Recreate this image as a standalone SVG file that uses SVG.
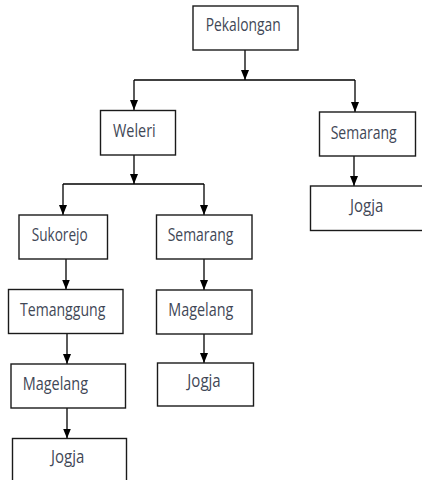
<svg xmlns="http://www.w3.org/2000/svg" width="422" height="480" viewBox="0 0 422 480">
<style>
.box{fill:#fff;stroke:#1a1a1a;stroke-width:1.4}
.lbl{font-family:"Open Sans","Noto Sans",sans-serif;font-size:17.5px;fill:#3f4756}
.ln{fill:none;stroke:#000;stroke-width:1.3}
</style>
<defs>
<marker id="ah" markerUnits="userSpaceOnUse" markerWidth="10" markerHeight="8" refX="10" refY="4" orient="auto">
<path d="M0,0 L10,4 L0,8 z" fill="#000"/>
</marker>
</defs>
<rect width="422" height="480" fill="#fff"/>
<g id="connectors">
<path class="ln" d="M245,50 V80" marker-end="url(#ah)"/>
<path class="ln" d="M134,80 H355"/>
<path class="ln" d="M134,80 V110" marker-end="url(#ah)"/>
<path class="ln" d="M355,80 V112" marker-end="url(#ah)"/>
<path class="ln" d="M134,155 V184" marker-end="url(#ah)"/>
<path class="ln" d="M63,184 H204"/>
<path class="ln" d="M63,184 V215" marker-end="url(#ah)"/>
<path class="ln" d="M204,184 V215" marker-end="url(#ah)"/>
<path class="ln" d="M354,156 V186" marker-end="url(#ah)"/>
<path class="ln" d="M66,259 V289.5" marker-end="url(#ah)"/>
<path class="ln" d="M67,334 V364" marker-end="url(#ah)"/>
<path class="ln" d="M67,408 V438.5" marker-end="url(#ah)"/>
<path class="ln" d="M204,259 V290" marker-end="url(#ah)"/>
<path class="ln" d="M204,334 V363" marker-end="url(#ah)"/>
</g>
<g id="pekalongan"><rect class="box" x="193" y="6" width="105" height="44"/><text class="lbl" x="205.7" y="31" textLength="75" lengthAdjust="spacingAndGlyphs">Pekalongan</text></g>
<g id="weleri"><rect class="box" x="100.5" y="110.5" width="75" height="44.5"/><text class="lbl" x="113" y="137" textLength="42.7" lengthAdjust="spacingAndGlyphs">Weleri</text></g>
<g id="semarang-right"><rect class="box" x="319.5" y="112" width="96" height="44"/><text class="lbl" x="330.7" y="139" textLength="66" lengthAdjust="spacingAndGlyphs">Semarang</text></g>
<g id="jogja-right"><rect class="box" x="310.5" y="186" width="120" height="44.5"/><text class="lbl" x="350" y="212" textLength="33.3" lengthAdjust="spacingAndGlyphs">Jogja</text></g>
<g id="sukorejo"><rect class="box" x="19" y="215" width="88.5" height="44"/><text class="lbl" x="31.7" y="240.5" textLength="56" lengthAdjust="spacingAndGlyphs">Sukorejo</text></g>
<g id="semarang-mid"><rect class="box" x="156.5" y="215" width="95.5" height="44"/><text class="lbl" x="167.7" y="240.5" textLength="65.6" lengthAdjust="spacingAndGlyphs">Semarang</text></g>
<g id="temanggung"><rect class="box" x="8.5" y="289.5" width="114.5" height="44"/><text class="lbl" x="20" y="316" textLength="85.3" lengthAdjust="spacingAndGlyphs">Temanggung</text></g>
<g id="magelang-left"><rect class="box" x="11" y="364" width="114.5" height="44"/><text class="lbl" x="22.7" y="390" textLength="65.3" lengthAdjust="spacingAndGlyphs">Magelang</text></g>
<g id="jogja-left"><rect class="box" x="12.5" y="438.5" width="114" height="60"/><text class="lbl" x="51" y="463.3" textLength="33.3" lengthAdjust="spacingAndGlyphs">Jogja</text></g>
<g id="magelang-mid"><rect class="box" x="156.5" y="290" width="95.5" height="44"/><text class="lbl" x="168.3" y="315.7" textLength="65" lengthAdjust="spacingAndGlyphs">Magelang</text></g>
<g id="jogja-mid"><rect class="box" x="157.5" y="363" width="96" height="43"/><text class="lbl" x="187.3" y="387.3" textLength="33.4" lengthAdjust="spacingAndGlyphs">Jogja</text></g>
</svg>
